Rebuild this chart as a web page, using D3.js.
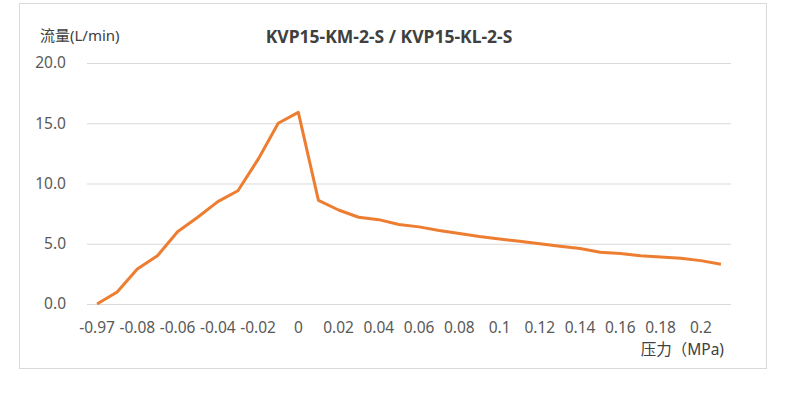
<!DOCTYPE html>
<html>
<head>
<meta charset="utf-8">
<script src="https://cdn.jsdelivr.net/npm/d3@7"></script>
<style>
  body { margin: 0; background: #fff; }
  svg text { font-family: "Noto Sans", "Noto Sans CJK SC", sans-serif; fill: #404040; }
</style>
</head>
<body>
<svg id="chart" width="792" height="398"></svg>
<script>
// pressure categories (MPa) and flow values (L/min)
const pressures = ['-0.97', '-0.09', '-0.08', '-0.07', '-0.06', '-0.05', '-0.04', '-0.03', '-0.02', '-0.01',
  '0', '0.01', '0.02', '0.03', '0.04', '0.05', '0.06', '0.07', '0.08', '0.09', '0.1',
  '0.11', '0.12', '0.13', '0.14', '0.15', '0.16', '0.17', '0.18', '0.19', '0.2', '0.21'];
const flows = [0, 1.0, 2.9, 4.0, 6.0, 7.2, 8.5, 9.4, 12.0, 15.0,
  15.9, 8.6, 7.8, 7.2, 7.0, 6.6, 6.4, 6.1, 5.85, 5.6, 5.4,
  5.2, 5.0, 4.8, 4.6, 4.3, 4.2, 4.0, 3.9, 3.8, 3.6, 3.3];
const yTicks = [0, 5, 10, 15, 20];

const title = 'KVP15-KM-2-S / KVP15-KL-2-S';
const yTitle = '流量(L/min)';
const xTitle = '压力（MPa)';

const svg = d3.select('#chart');

// chart area border
svg.append('rect')
  .attr('x', 19.5).attr('y', 3.5)
  .attr('width', 747).attr('height', 365)
  .attr('fill', '#fff')
  .attr('stroke', '#d9d9d9');

const plot = { left: 87, right: 731, top: 63, bottom: 304 };

const x = d3.scaleBand()
  .domain(pressures)
  .range([plot.left, plot.right]);

const y = d3.scaleLinear()
  .domain([0, 20])
  .range([plot.bottom, plot.top]);

// gridlines
const yAxis = d3.axisLeft(y)
  .tickValues(yTicks)
  .tickSize(-(plot.right - plot.left))
  .tickPadding(21)
  .tickFormat(d3.format('.1f'));

const gy = svg.append('g')
  .attr('transform', `translate(${plot.left},0)`)
  .call(yAxis);
gy.select('.domain').remove();
gy.selectAll('.tick line').attr('stroke', '#d9d9d9');
gy.selectAll('.tick text').attr('font-size', 15.5).style('fill', '#595959');

// x axis, labels every other category
const xAxis = d3.axisBottom(x)
  .tickValues(pressures.filter((d, i) => i % 2 === 0))
  .tickSize(0)
  .tickPadding(18);

const gx = svg.append('g')
  .attr('transform', `translate(0,${plot.bottom})`)
  .call(xAxis);
gx.select('.domain').remove();
gx.selectAll('.tick text').attr('font-size', 15.5).style('fill', '#595959');

// line
const line = d3.line()
  .x((d, i) => x(pressures[i]) + x.bandwidth() / 2)
  .y(d => y(d));

svg.append('path')
  .datum(flows)
  .attr('fill', 'none')
  .attr('stroke', '#ED7D31')
  .attr('stroke-width', 3)
  .attr('stroke-linejoin', 'round')
  .attr('d', line);

// titles
svg.append('text')
  .attr('x', 389).attr('y', 43)
  .attr('text-anchor', 'middle')
  .attr('font-size', 17.5)
  .attr('font-weight', 'bold')
  .text(title);

svg.append('text')
  .attr('x', 40).attr('y', 41)
  .attr('font-size', 15)
  .text(yTitle);

svg.append('text')
  .attr('x', 724).attr('y', 355)
  .attr('text-anchor', 'end')
  .attr('font-size', 15.5)
  .text(xTitle);
</script>
</body>
</html>
